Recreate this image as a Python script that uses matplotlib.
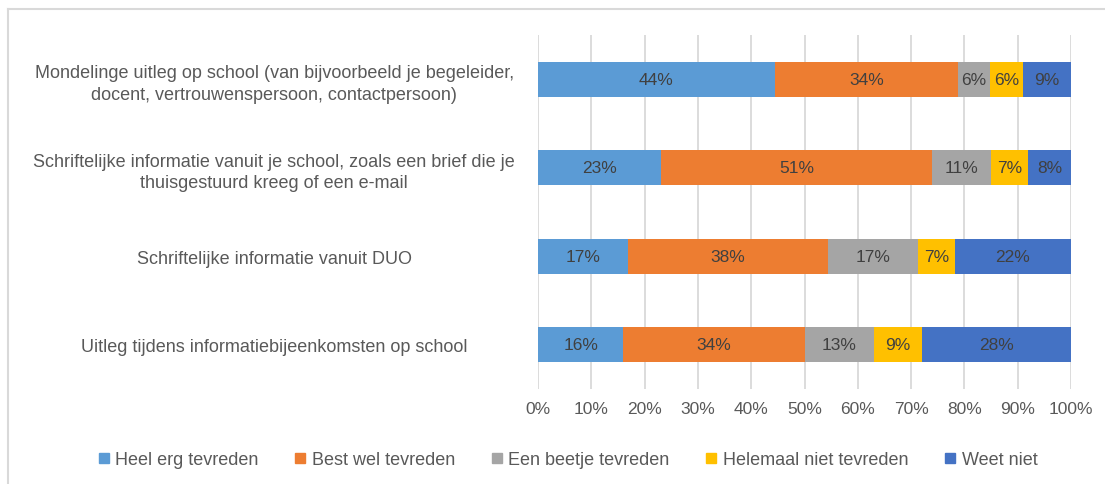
import numpy as np
import matplotlib
matplotlib.use("Agg")
import matplotlib.pyplot as plt
from matplotlib.lines import Line2D

categories = [
    "Mondelinge uitleg op school (van bijvoorbeeld je begeleider,\ndocent, vertrouwenspersoon, contactpersoon)",
    "Schriftelijke informatie vanuit je school, zoals een brief die je\nthuisgestuurd kreeg of een e-mail",
    "Schriftelijke informatie vanuit DUO",
    "Uitleg tijdens informatiebijeenkomsten op school",
]
series = ["Heel erg tevreden", "Best wel tevreden", "Een beetje tevreden",
          "Helemaal niet tevreden", "Weet niet"]
heel_erg = [44, 23, 17, 16]
best_wel = [34, 51, 38, 34]
beetje = [6, 11, 17, 13]
helemaal_niet = [6, 7, 7, 9]
weet_niet = [9, 8, 22, 28]
colors = ["#5B9BD5", "#ED7D31", "#A5A5A5", "#FFC000", "#4472C4"]

plt.rcParams['font.family'] = ['Liberation Sans', 'DejaVu Sans']

data = np.array([heel_erg, best_wel, beetje, helemaal_niet, weet_niet], dtype=float)
shares = data / data.sum(axis=0) * 100

fig = plt.figure(figsize=(11.05, 4.85), dpi=100)
ax = fig.add_axes([538/1105, 1-390/485, (1071-538)/1105, (390-36)/485])

y = np.arange(len(categories))
left = np.zeros(len(categories))
for i, name in enumerate(series):
    bars = ax.barh(y, shares[i], left=left, height=0.4, color=colors[i], label=name, zorder=3)
    for j, b in enumerate(bars):
        ax.text(left[j] + shares[i][j]/2, y[j], f"{int(data[i][j])}%", ha="center", va="center",
                fontsize=12.5, color="#404040", zorder=4)
    left += shares[i]

ax.set_xlim(0, 100)
ax.set_ylim(len(categories) - 0.5, -0.5)
ax.set_xticks(np.arange(0, 101, 10))
ax.set_xticklabels([f"{t}%" for t in range(0, 101, 10)])
ax.set_yticks(y)
ax.set_yticklabels(categories, ha="center", multialignment="center", linespacing=1.35)
ax.tick_params(axis="y", length=0, pad=190, labelsize=13, labelcolor="#595959")
ax.tick_params(axis="x", length=0, pad=9, labelsize=12.5, labelcolor="#595959")
ax.grid(axis="x", color="#D9D9D9", linewidth=1.3, zorder=0)
for s in ax.spines.values():
    s.set_visible(False)

handles = [Line2D([], [], marker="s", linestyle="none", markersize=7, color=c) for c in colors]
fig.legend(handles, series, loc="center", bbox_to_anchor=(566/1105, 1-461/485), ncol=5, frameon=False,
           fontsize=13, labelcolor="#595959", handletextpad=0.15, handlelength=1.0, columnspacing=1.8)

# chart border (left and top edges visible)
fig.add_artist(Line2D([8/1105, 8/1105], [0, 1-10/485], color="#D9D9D9", linewidth=1.5))
fig.add_artist(Line2D([8/1105, 1], [1-10/485, 1-10/485], color="#D9D9D9", linewidth=1.5))

fig.savefig("out.png", dpi=100)
